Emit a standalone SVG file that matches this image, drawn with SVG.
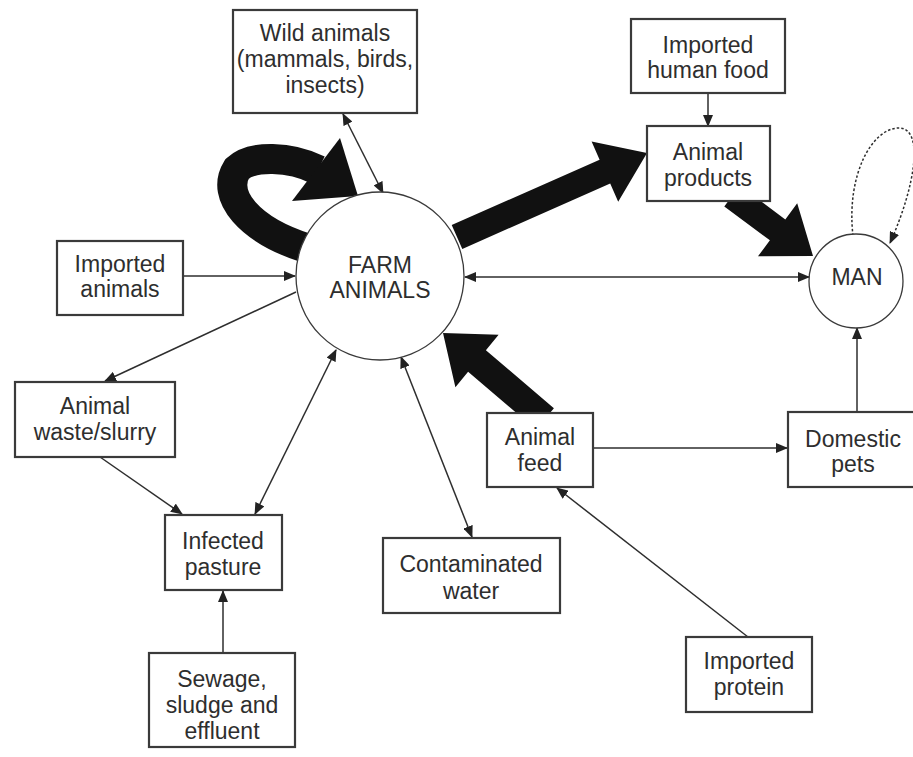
<svg xmlns="http://www.w3.org/2000/svg" width="913" height="757" viewBox="0 0 913 757">
<defs>
<marker id="ah" markerUnits="userSpaceOnUse" markerWidth="12" markerHeight="10" refX="11" refY="5" orient="auto-start-reverse" viewBox="0 0 12 10">
<path d="M0,0 L12,5 L0,10 z" fill="#222"/>
</marker>
<style>
.box{fill:#fff;stroke:#3a3a3a;stroke-width:2.2}
.circ{fill:#fff;stroke:#3a3a3a;stroke-width:1.3}
.t{font-family:"Liberation Sans",Arial,sans-serif;font-size:23px;fill:#2e2e2e;text-anchor:middle}
.ln{stroke:#2e2e2e;stroke-width:1.5;fill:none}
.thick{fill:#111;stroke:none}
</style>
</defs>
<rect width="913" height="757" fill="#fff"/>
<g id="connectors">
<polygon class="thick" points="451.7,225.1 599.6,159.7 591.6,141.4 647,153 618.2,201.8 610.2,183.5 462.3,248.9"/>
<polygon class="thick" points="739.7,185.5 785.3,219.4 797.2,203.3 813,256 758,256.3 769.9,240.3 724.3,206.5"/>
<polygon class="thick" points="553.9,408.2 485.9,350.2 498.6,334.8 443,333 455.4,387.2 468.1,371.8 536.1,429.8"/>
<path d="M306,248 C250,230 220,196 237,169 C252,155 290,156 318,170" fill="none" stroke="#111" stroke-width="30"/>
<polygon class="thick" points="340,138 358,196 292,201"/>
<line class="ln" x1="343" y1="114" x2="383" y2="193" marker-start="url(#ah)" marker-end="url(#ah)"/>
<line class="ln" x1="183" y1="276" x2="295" y2="276" marker-end="url(#ah)"/>
<line class="ln" x1="296" y1="292" x2="105" y2="381" marker-end="url(#ah)"/>
<line class="ln" x1="100" y1="457" x2="182" y2="514" marker-end="url(#ah)"/>
<line class="ln" x1="255" y1="514" x2="336" y2="350" marker-start="url(#ah)" marker-end="url(#ah)"/>
<line class="ln" x1="223" y1="653" x2="223" y2="591" stroke-width="2.6" marker-end="url(#ah)"/>
<line class="ln" x1="401" y1="357" x2="472" y2="537" marker-start="url(#ah)" marker-end="url(#ah)"/>
<line class="ln" x1="465" y1="277" x2="809" y2="277" marker-start="url(#ah)" marker-end="url(#ah)"/>
<line class="ln" x1="708" y1="93" x2="708" y2="126" marker-end="url(#ah)"/>
<line class="ln" x1="593" y1="448" x2="787" y2="448" marker-end="url(#ah)"/>
<line class="ln" x1="857" y1="412" x2="857" y2="328" marker-end="url(#ah)"/>
<line class="ln" x1="748" y1="637" x2="557" y2="488" marker-end="url(#ah)"/>
<path class="ln" d="M853,236 C846,175 872,128 899,128 C924,128 916,185 890,243" stroke-width="1.2" stroke-dasharray="2.5,2" marker-end="url(#ah)"/>
</g>
<g id="farm-animals">
<circle class="circ" cx="380" cy="276" r="84"/>
<text class="t" x="380" y="273">FARM</text>
<text class="t" x="380" y="298">ANIMALS</text>
</g>
<g id="man">
<circle class="circ" cx="856" cy="281" r="47"/>
<text class="t" x="857" y="285">MAN</text>
</g>
<g id="wild-animals">
<rect class="box" x="233" y="10" width="184" height="103"/>
<text class="t" x="325" y="41">Wild animals</text>
<text class="t" x="325" y="67">(mammals, birds,</text>
<text class="t" x="325" y="93">insects)</text>
</g>
<g id="imported-human-food">
<rect class="box" x="631" y="19" width="154" height="74"/>
<text class="t" x="708" y="53">Imported</text>
<text class="t" x="708" y="78">human food</text>
</g>
<g id="animal-products">
<rect class="box" x="647" y="126" width="123" height="75"/>
<text class="t" x="708" y="160">Animal</text>
<text class="t" x="708" y="186">products</text>
</g>
<g id="imported-animals">
<rect class="box" x="57" y="241" width="126" height="74"/>
<text class="t" x="120" y="272">Imported</text>
<text class="t" x="120" y="297">animals</text>
</g>
<g id="animal-waste">
<rect class="box" x="15" y="382" width="160" height="75"/>
<text class="t" x="95" y="414">Animal</text>
<text class="t" x="95" y="440">waste/slurry</text>
</g>
<g id="infected-pasture">
<rect class="box" x="165" y="515" width="117" height="75"/>
<text class="t" x="223" y="549">Infected</text>
<text class="t" x="223" y="575">pasture</text>
</g>
<g id="sewage">
<rect class="box" x="149" y="653" width="146" height="94"/>
<text class="t" x="222" y="687">Sewage,</text>
<text class="t" x="222" y="713">sludge and</text>
<text class="t" x="222" y="739">effluent</text>
</g>
<g id="contaminated-water">
<rect class="box" x="383" y="538" width="177" height="75"/>
<text class="t" x="471" y="572">Contaminated</text>
<text class="t" x="471" y="599">water</text>
</g>
<g id="animal-feed">
<rect class="box" x="487" y="413" width="106" height="74"/>
<text class="t" x="540" y="445">Animal</text>
<text class="t" x="540" y="471">feed</text>
</g>
<g id="domestic-pets">
<rect class="box" x="788" y="412" width="130" height="75"/>
<text class="t" x="853" y="447">Domestic</text>
<text class="t" x="853" y="472">pets</text>
</g>
<g id="imported-protein">
<rect class="box" x="686" y="637" width="126" height="75"/>
<text class="t" x="749" y="669">Imported</text>
<text class="t" x="749" y="695">protein</text>
</g>
</svg>
